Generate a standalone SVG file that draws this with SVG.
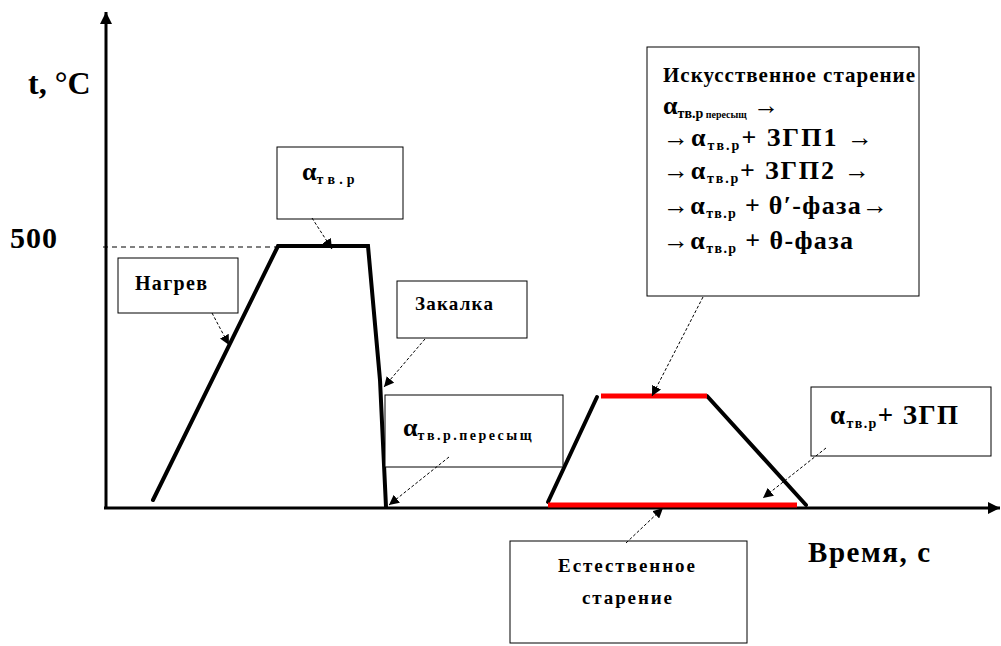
<svg xmlns="http://www.w3.org/2000/svg" width="1001" height="646" viewBox="0 0 1001 646">
<style>
text{font-family:"Liberation Serif","Times New Roman",serif;font-weight:bold;fill:#000}
.box{fill:#fff;stroke:#000;stroke-width:1}
.axis{stroke:#000;stroke-width:3;fill:none}
.curve{stroke:#000;stroke-width:4;fill:none;stroke-linecap:round}
.red{stroke:#ff0000;stroke-width:5;fill:none}
.lead{stroke:#000;stroke-width:1;stroke-dasharray:3,2;fill:none}
.sub{font-size:14px}
.tiny{font-size:10px}
</style>
<defs>
<marker id="ah" viewBox="0 0 10 10" refX="10" refY="5" markerWidth="10" markerHeight="10" markerUnits="userSpaceOnUse" orient="auto">
<path d="M0,0 L10,5 L0,10 Z" fill="#000"/>
</marker>
<marker id="ax" viewBox="0 0 10 10" refX="10" refY="5" markerWidth="14" markerHeight="12" markerUnits="userSpaceOnUse" orient="auto">
<path d="M0,0 L10,5 L0,10 Z" fill="#000"/>
</marker>
</defs>
<rect width="1001" height="646" fill="#fff"/>
<g id="axes">
<line class="axis" x1="106" y1="508" x2="106" y2="12" marker-end="url(#ax)"/>
<line class="axis" x1="104" y1="508" x2="1000" y2="508" marker-end="url(#ax)"/>
<line x1="103" y1="247" x2="278" y2="247" stroke="#000" stroke-width="1" stroke-dasharray="5,4"/>
<text x="28" y="94" font-size="32">t, °C</text>
<text x="10" y="248" font-size="30" textLength="47">500</text>
<text x="808" y="562" font-size="29" textLength="122">Время, с</text>
</g>
<g id="curve">
<polyline class="curve" points="153,500 278,246 368,246 380,380 386,507"/>
<line class="curve" x1="548" y1="502" x2="597" y2="397"/>
<line class="curve" x1="707" y1="396" x2="806" y2="505"/>
<line class="red" x1="601" y1="396" x2="707" y2="396"/>
<line class="red" x1="548" y1="505" x2="797" y2="505"/>
</g>
<g id="node-nagrev">
<rect class="box" x="118" y="258" width="120" height="55"/>
<text x="135" y="290" font-size="20" textLength="72">Нагрев</text>
</g>
<g id="node-alpha">
<rect class="box" x="277" y="147" width="126" height="72"/>
<text x="302" y="180" font-size="26">α<tspan class="sub" dy="4" textLength="38">тв.р</tspan></text>
</g>
<g id="node-zakalka">
<rect class="box" x="397" y="281" width="130" height="57"/>
<text x="415" y="310" font-size="19" textLength="78">Закалка</text>
</g>
<g id="node-pereshchyshch">
<rect class="box" x="385" y="395" width="178" height="72"/>
<text x="403" y="436" font-size="26">α<tspan class="sub" dy="4" textLength="114">тв.р.пересыщ</tspan></text>
</g>
<g id="node-iskusstv">
<rect class="box" x="647" y="47" width="272" height="249"/>
<text x="663" y="82" font-size="21" textLength="252">Искусственное старение</text>
<text x="663" y="114" font-size="26">α<tspan class="sub" dy="4">тв.р</tspan><tspan class="tiny"> пересыщ</tspan><tspan dy="-4"> →</tspan></text>
<text x="663" y="146" font-size="26" textLength="210">→α<tspan class="sub" dy="4">тв.р</tspan><tspan dy="-4">+ ЗГП1 →</tspan></text>
<text x="663" y="179" font-size="26" textLength="207">→α<tspan class="sub" dy="4">тв.р</tspan><tspan dy="-4">+ ЗГП2 →</tspan></text>
<text x="663" y="214" font-size="26" textLength="225">→α<tspan class="sub" dy="4">тв.р</tspan><tspan dy="-4"> + θ′-фаза→</tspan></text>
<text x="663" y="249" font-size="26" textLength="190">→α<tspan class="sub" dy="4">тв.р</tspan><tspan dy="-4"> + θ-фаза</tspan></text>
</g>
<g id="node-zgp">
<rect class="box" x="811" y="387" width="180" height="69"/>
<text x="830" y="424" font-size="27" textLength="128">α<tspan class="sub" dy="4">тв.р</tspan><tspan dy="-4">+ ЗГП</tspan></text>
</g>
<g id="node-estestv">
<rect class="box" x="510" y="541" width="237" height="102"/>
<text x="558" y="572" font-size="19" textLength="137">Естественное</text>
<text x="582" y="604" font-size="19" textLength="90">старение</text>
</g>
<g id="connectors">
<line class="lead" x1="212" y1="313" x2="229" y2="345" marker-end="url(#ah)"/>
<line class="lead" x1="312" y1="218" x2="332" y2="249" marker-end="url(#ah)"/>
<line class="lead" x1="425" y1="339" x2="384" y2="387" marker-end="url(#ah)"/>
<line class="lead" x1="449" y1="457" x2="389" y2="505" marker-end="url(#ah)"/>
<line class="lead" x1="703" y1="297" x2="652" y2="396" marker-end="url(#ah)"/>
<line class="lead" x1="826" y1="448" x2="763" y2="498" marker-end="url(#ah)"/>
<line class="lead" x1="626" y1="543" x2="663" y2="508" marker-end="url(#ah)"/>
</g>
</svg>
